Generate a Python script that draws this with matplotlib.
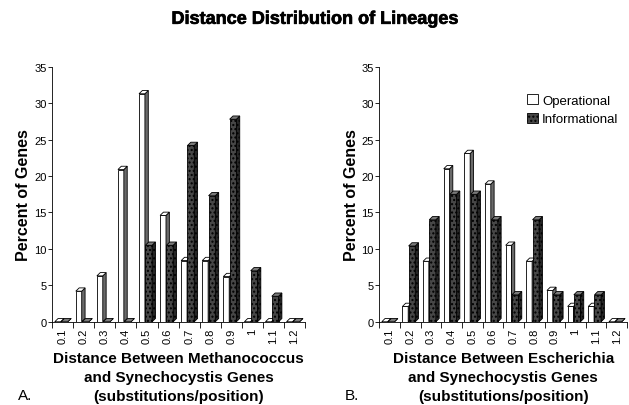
import matplotlib
matplotlib.use('Agg')
import matplotlib.pyplot as plt
import matplotlib.patheffects as pe
from matplotlib.patches import Polygon, Patch

plt.rcParams['font.family'] = ['Liberation Sans', 'DejaVu Sans']

cats = ['0.1', '0.2', '0.3', '0.4', '0.5', '0.6', '0.7', '0.8', '0.9', '1', '1.1', '1.2']

# panel A: Methanococcus vs Synechocystis
a_oper = [0, 4.2, 6.3, 20.9, 31.3, 14.6, 8.4, 8.4, 6.2, 0, 0, 0]
a_info = [0, 0, 0, 0, 10.5, 10.5, 24.2, 17.3, 27.8, 7.0, 3.5, 0]

# panel B: Escherichia vs Synechocystis
b_oper = [0, 2.1, 8.3, 21.0, 23.1, 18.9, 10.5, 8.3, 4.3, 2.1, 2.1, 0]
b_info = [0, 10.4, 14.0, 17.5, 17.5, 14.0, 3.7, 14.0, 3.7, 3.7, 3.7, 0]

DX = 0.16   # depth in category units
DY = 0.45   # depth in percent units


def bar3d(ax, x0, w, h, front, side, top, hatch=None):
    ax.add_patch(Polygon([(x0, 0), (x0 + w, 0), (x0 + w, h), (x0, h)], closed=True,
                         facecolor=front, edgecolor='black', lw=0.6, hatch=hatch, zorder=3))
    ax.add_patch(Polygon([(x0 + w, 0), (x0 + w + DX, DY), (x0 + w + DX, h + DY), (x0 + w, h)],
                         closed=True, facecolor=side, edgecolor='black', lw=0.6, hatch=hatch, zorder=3))
    ax.add_patch(Polygon([(x0, h), (x0 + w, h), (x0 + w + DX, h + DY), (x0 + DX, h + DY)],
                         closed=True, facecolor=top, edgecolor='black', lw=0.6, zorder=3))


def panel(ax, oper, info, xlabel):
    for i in range(len(cats)):
        bar3d(ax, i - 0.38, 0.28, oper[i], 'white', '#6a6a6a', 'white')
        bar3d(ax, i - 0.08, 0.32, info[i], '#474747', '#262626', '#7a7a7a', hatch='....')
    ax.set_xlim(-0.5, len(cats) - 0.5)
    ax.set_ylim(0, 35)
    ax.set_yticks(range(0, 36, 5))
    ax.set_xticks(range(len(cats)))
    ax.set_xticklabels(cats, rotation=90, fontsize=8)
    ax.set_xticks([i + 0.5 for i in range(-1, len(cats))], minor=True)
    ax.tick_params(axis='x', which='major', length=0, pad=4)
    ax.tick_params(axis='x', which='minor', length=4, width=0.6)
    ax.tick_params(axis='y', labelsize=8, length=3, width=0.6, pad=1)
    for s in ['top', 'right']:
        ax.spines[s].set_visible(False)
    for s in ['left', 'bottom']:
        ax.spines[s].set_linewidth(0.6)
    ax.set_ylabel('Percent of Genes', fontsize=11.5, fontweight='bold', labelpad=2)
    ax.set_xlabel(xlabel, fontsize=11, fontweight='bold', labelpad=6, linespacing=1.45)


fig = plt.figure(figsize=(6.29, 4.06), dpi=100)
axA = fig.add_axes([0.083, 0.205, 0.402, 0.628])
axB = fig.add_axes([0.603, 0.205, 0.394, 0.628])

panel(axA, a_oper, a_info,
      'Distance Between Methanococcus\nand Synechocystis Genes\n(substitutions/position)')
panel(axB, b_oper, b_info,
      'Distance Between Escherichia\nand Synechocystis Genes\n(substitutions/position)')

axB.legend(handles=[Patch(facecolor='white', edgecolor='black', lw=0.6, label='Operational'),
                    Patch(facecolor='#474747', edgecolor='black', lw=0.6, hatch='....',
                          label='Informational')],
           loc='upper left', bbox_to_anchor=(0.55, 0.94), frameon=False, fontsize=9.5,
           handlelength=0.8, handleheight=0.8, handletextpad=0.3, labelspacing=0.45)

fig.text(0.5, 0.95, 'Distance Distribution of Lineages', ha='center', va='center',
         fontsize=13, fontweight='bold',
         path_effects=[pe.withStroke(linewidth=0.5, foreground='black')])
fig.text(0.028, 0.025, 'A.', fontsize=11, ha='left', va='center')
fig.text(0.548, 0.025, 'B.', fontsize=11, ha='left', va='center')

fig.savefig('out.png', dpi=100)
